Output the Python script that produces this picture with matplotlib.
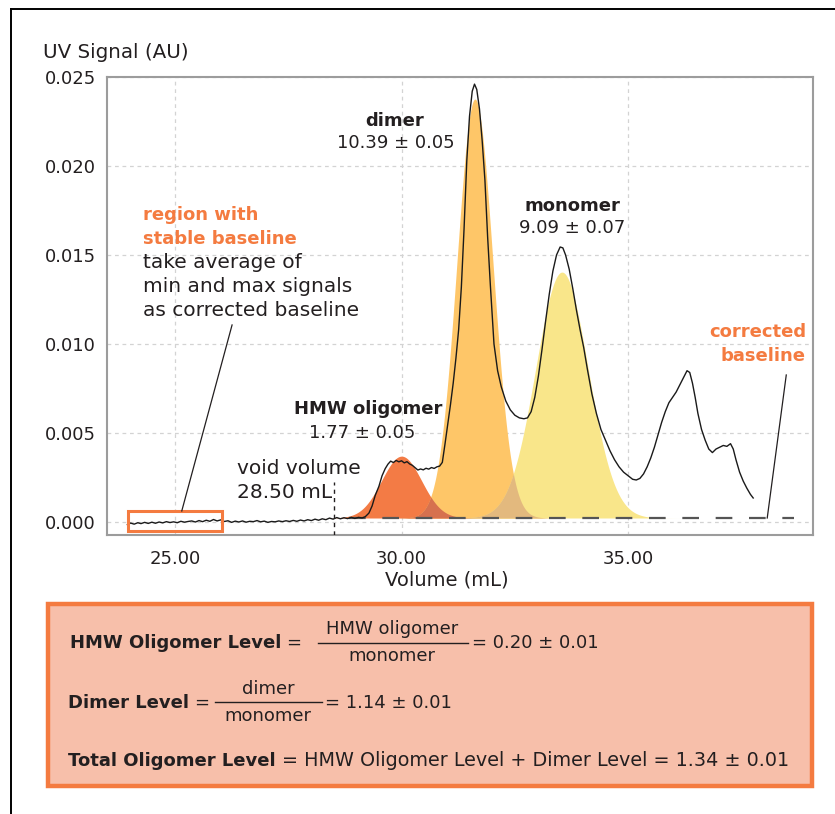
import numpy as np
import matplotlib
matplotlib.use("Agg")
import matplotlib.pyplot as plt
from matplotlib.lines import Line2D
from matplotlib.patches import Rectangle

plt.rcParams['font.family'] = ['DejaVu Sans']

# ---------------- data ----------------
x_ticks = [25.0, 30.0, 35.0]
y_ticks = [0.000, 0.005, 0.010, 0.015, 0.020, 0.025]

trace_x = [23.95, 24.02, 24.10, 24.18, 24.25, 24.33, 24.41, 24.49, 24.57, 24.65,
           24.73, 24.81, 24.89, 24.97, 25.05, 25.13, 25.21, 25.29, 25.37, 25.45,
           25.53, 25.61, 25.69, 25.77, 25.85, 25.93, 26.01, 26.09, 26.17, 26.25,
           26.33, 26.41, 26.49, 26.57, 26.65, 26.73, 26.81, 26.89, 26.97, 27.05,
           27.13, 27.21, 27.29, 27.37, 27.45, 27.53, 27.61, 27.69, 27.77, 27.85,
           27.93, 28.01, 28.09, 28.17, 28.25, 28.33, 28.41, 28.49, 28.57, 28.65,
           28.73, 28.81, 28.89, 28.97, 29.05, 29.13, 29.20,
           29.28, 29.35, 29.42, 29.50, 29.57, 29.64, 29.70, 29.76, 29.82, 29.88,
           29.94, 30.00, 30.06, 30.12, 30.18, 30.24, 30.30, 30.36, 30.42, 30.48,
           30.54, 30.60, 30.66, 30.72, 30.78, 30.84, 30.90, 30.96, 31.02, 31.08,
           31.14, 31.20, 31.26, 31.32, 31.38, 31.44, 31.50, 31.56, 31.61, 31.66,
           31.72, 31.78, 31.84, 31.90, 31.96, 32.04, 32.12, 32.20, 32.30, 32.40,
           32.50, 32.60, 32.70, 32.78, 32.86, 32.94, 33.02, 33.10, 33.18, 33.26,
           33.34, 33.42, 33.50, 33.56, 33.62, 33.70, 33.78, 33.86, 33.94, 34.02,
           34.10, 34.20, 34.30, 34.40, 34.50, 34.60, 34.70, 34.80, 34.90, 35.00,
           35.10, 35.18, 35.26, 35.34, 35.42, 35.50, 35.58, 35.66, 35.74, 35.82,
           35.90, 35.98, 36.06, 36.14, 36.22, 36.30, 36.36, 36.42, 36.48, 36.54,
           36.62, 36.70, 36.78, 36.86, 36.94, 37.02, 37.10, 37.18, 37.26, 37.32,
           37.38, 37.46, 37.54, 37.62, 37.70, 37.76]
trace_y = [-0.00015, -0.00006, -0.00012, -0.00004, -0.00009, -0.00002, -0.00008, -0.00001, -0.00007, 0.00000,
           -0.00005, 0.00002, -0.00003, 0.00001, -0.00004, 0.00004, -0.00001, 0.00003, 0.00006, 0.00000,
           0.00008, 0.00002, 0.00010, 0.00004, 0.00014, 0.00006, 0.00012, 0.00003, 0.00007, -0.00002,
           0.00005, 0.00000, 0.00006, -0.00001, 0.00004, 0.00002, 0.00008, 0.00001, 0.00005, -0.00002,
           0.00003, 0.00001, 0.00006, 0.00002, 0.00007, 0.00003, 0.00009, 0.00004, 0.00011, 0.00006,
           0.00013, 0.00008, 0.00016, 0.00010, 0.00018, 0.00013, 0.00022, 0.00016, 0.00025, 0.00018,
           0.00024, 0.00019, 0.00026, 0.00020, 0.00026, 0.00023, 0.00030,
           0.00050, 0.00090, 0.00150, 0.00200, 0.00260, 0.00300, 0.00325, 0.00342, 0.00334, 0.00346,
           0.00338, 0.00344, 0.00332, 0.00339, 0.00326, 0.00318, 0.00305, 0.00292, 0.00298, 0.00293,
           0.00302, 0.00297, 0.00306, 0.00301, 0.00310, 0.00314, 0.00335, 0.00440, 0.00550, 0.00660,
           0.00780, 0.00920, 0.01080, 0.01320, 0.01650, 0.02030, 0.02280, 0.02420, 0.02460, 0.02430,
           0.02320, 0.02140, 0.01920, 0.01600, 0.01330, 0.01000, 0.00850, 0.00760, 0.00680, 0.00630,
           0.00600, 0.00585, 0.00580, 0.00585, 0.00620, 0.00700, 0.00820, 0.00970, 0.01130, 0.01280,
           0.01410, 0.01500, 0.01545, 0.01540, 0.01500, 0.01420, 0.01310, 0.01190, 0.01080, 0.00980,
           0.00860, 0.00720, 0.00610, 0.00520, 0.00460, 0.00400, 0.00350, 0.00310, 0.00280, 0.00260,
           0.00240, 0.00236, 0.00245, 0.00270, 0.00310, 0.00360, 0.00420, 0.00490, 0.00560, 0.00620,
           0.00670, 0.00700, 0.00730, 0.00770, 0.00810, 0.00850, 0.00840, 0.00780, 0.00700, 0.00610,
           0.00520, 0.00460, 0.00410, 0.00390, 0.00410, 0.00420, 0.00430, 0.00425, 0.00440, 0.00410,
           0.00350, 0.00280, 0.00230, 0.00190, 0.00155, 0.00135]

# fitted Gaussian peaks: HMW oligomer, dimer, monomer
peak_names = ["HMW oligomer", "dimer", "monomer"]
peak_centers = [30.00, 31.62, 33.54]
peak_heights = [0.00370, 0.02376, 0.01404]
peak_sigmas = [0.44, 0.40, 0.58]
peak_colors = ["#F37B45", "#FEC668", "#F9E68A"]
overlap_colors = ["#D6714F", "#E3B97E"]

corrected_baseline = 0.000225
baseline_range = [28.85, 38.65]
void_volume = 28.50
stable_region = [23.97, 26.04, -0.0005, 0.00062]

# ---------------- figure ----------------
W, H = 835, 814
fig = plt.figure(figsize=(W / 100, H / 100), dpi=100)


def P(x, y):
    return (x / W, 1 - y / H)


ax = fig.add_axes([107 / W, 1 - 535 / H, (813 - 107) / W, (535 - 77) / H])
ax.set_xlim(23.5, 39.08)
ax.set_ylim(-0.00073, 0.025)

dark = "#231F20"
orange = "#F47B40"

# gaussian fills
xs = np.linspace(27.5, 37.5, 1500)
curves = []
for c, h, s in zip(peak_centers, peak_heights, peak_sigmas):
    curves.append(corrected_baseline + (h - corrected_baseline) * np.exp(-0.5 * ((xs - c) / s) ** 2))
for cv, col in zip(curves, peak_colors):
    ax.fill_between(xs, corrected_baseline, cv, color=col, lw=0, zorder=2)
ax.fill_between(xs, corrected_baseline, np.minimum(curves[0], curves[1]), color=overlap_colors[0], lw=0, zorder=3)
ax.fill_between(xs, corrected_baseline, np.minimum(curves[1], curves[2]), color=overlap_colors[1], lw=0, zorder=3)

# corrected baseline
ax.plot(baseline_range, [corrected_baseline] * 2, color="#555555", lw=1.6,
        dashes=(7.5, 7.5), zorder=4, solid_capstyle='butt', dash_capstyle='butt')

# trace
ax.plot(trace_x, trace_y, color="#1a1a1a", lw=1.0, zorder=5)

# void volume
ax.plot([void_volume, void_volume], [-0.00073, 0.00226], color=dark, lw=1.0,
        dashes=(3, 3), zorder=5)

# stable region box
ax.add_patch(Rectangle((stable_region[0], stable_region[2]),
                       stable_region[1] - stable_region[0],
                       stable_region[3] - stable_region[2],
                       fill=False, edgecolor=orange, lw=2.2, zorder=6))

# pointer lines
ax.plot([25.15, 26.26], [0.00062, 0.01107], color=dark, lw=0.9, zorder=6)
ax.plot([38.07, 38.49], [corrected_baseline, 0.00826], color=dark, lw=0.9, zorder=6)

# axes styling
ax.set_xticks(x_ticks)
ax.set_xticklabels([f"{v:.2f}" for v in x_ticks], fontsize=13, color=dark)
ax.set_yticks(y_ticks)
ax.set_yticklabels([f"{v:.3f}" for v in y_ticks], fontsize=13, color=dark)
ax.tick_params(length=0, pad=8)
ax.tick_params(axis='x', pad=11)
ax.grid(True, color="#d3d3d3", lw=0.9, dashes=(3, 3))
ax.set_axisbelow(True)
for sp in ax.spines.values():
    sp.set_color("#9c9c9c")
    sp.set_linewidth(1.5)

fig.text(*P(43, 52), "UV Signal (AU)", fontsize=14.3, color=dark, va="center", ha="left")
fig.text(*P(447, 580), "Volume (mL)", fontsize=14, color=dark, va="center", ha="center")

# peak annotations
fig.text(*P(395, 121), "dimer", fontsize=13, weight="bold", color=dark, ha="center", va="center")
fig.text(*P(396, 143), "10.39 ± 0.05", fontsize=13, color=dark, ha="center", va="center")
fig.text(*P(572, 206), "monomer", fontsize=13, weight="bold", color=dark, ha="center", va="center")
fig.text(*P(572, 228), "9.09 ± 0.07", fontsize=13, color=dark, ha="center", va="center")
fig.text(*P(368, 409), "HMW oligomer", fontsize=13, weight="bold", color=dark, ha="center", va="center")
fig.text(*P(362, 433), "1.77 ± 0.05", fontsize=13, color=dark, ha="center", va="center")
fig.text(*P(237, 468), "void volume", fontsize=14.5, color=dark, ha="left", va="center")
fig.text(*P(237, 492), "28.50 mL", fontsize=14.5, color=dark, ha="left", va="center")

fig.text(*P(143, 215), "region with", fontsize=13, weight="bold", color=orange, ha="left", va="center")
fig.text(*P(143, 239), "stable baseline", fontsize=13, weight="bold", color=orange, ha="left", va="center")
for i, line in enumerate(["take average of", "min and max signals", "as corrected baseline"]):
    fig.text(*P(143, 263 + 24 * i), line, fontsize=14.5, color=dark, ha="left", va="center")

fig.text(*P(806, 332), "corrected", fontsize=13, weight="bold", color=orange, ha="right", va="center")
fig.text(*P(806, 356), "baseline", fontsize=13, weight="bold", color=orange, ha="right", va="center")

# outer frame lines (top & left)
fig.add_artist(Line2D([11 / W, 1.0], [1 - 9 / H, 1 - 9 / H], color="black", lw=1.4))
fig.add_artist(Line2D([11 / W, 11 / W], [0, 1 - 9 / H], color="black", lw=1.4))

# formula box
fig.add_artist(Rectangle(P(48, 786), (812 - 48) / W, (786 - 604) / H,
                         facecolor="#F7BFAA", edgecolor=orange, lw=3.2))

fs = 13
renderer = fig.canvas.get_renderer()


def right_of(t, gap=0):
    bb = t.get_window_extent(renderer=renderer)
    return bb.x1 + gap


t = fig.text(*P(70, 643), "HMW Oligomer Level", fontsize=fs, weight="bold", color=dark, va="center")
x1 = right_of(t, 5)
fig.text(x1 / W, 1 - 643 / H, "=", fontsize=fs, color=dark, va="center")
fig.text(*P(392, 629), "HMW oligomer", fontsize=fs, color=dark, ha="center", va="center")
fig.text(*P(392, 656), "monomer", fontsize=fs, color=dark, ha="center", va="center")
fig.add_artist(Line2D([318 / W, 468 / W], [1 - 643 / H] * 2, color=dark, lw=1.0))
fig.text(*P(472, 643), "= 0.20 ± 0.01", fontsize=fs, color=dark, va="center")

t = fig.text(*P(68, 703), "Dimer Level", fontsize=fs, weight="bold", color=dark, va="center")
x1 = right_of(t, 5)
fig.text(x1 / W, 1 - 703 / H, "=", fontsize=fs, color=dark, va="center")
fig.text(*P(268, 689), "dimer", fontsize=fs, color=dark, ha="center", va="center")
fig.text(*P(268, 716), "monomer", fontsize=fs, color=dark, ha="center", va="center")
fig.add_artist(Line2D([215 / W, 322 / W], [1 - 702 / H] * 2, color=dark, lw=1.0))
fig.text(*P(325, 703), "= 1.14 ± 0.01", fontsize=fs, color=dark, va="center")

t = fig.text(*P(68, 761), "Total Oligomer Level", fontsize=fs, weight="bold", color=dark, va="center")
x1 = right_of(t, 6)
fig.text(x1 / W, 1 - 761 / H, "= HMW Oligomer Level + Dimer Level = 1.34 ± 0.01",
         fontsize=13.8, color=dark, va="center")

fig.savefig("out.png", dpi=100)
